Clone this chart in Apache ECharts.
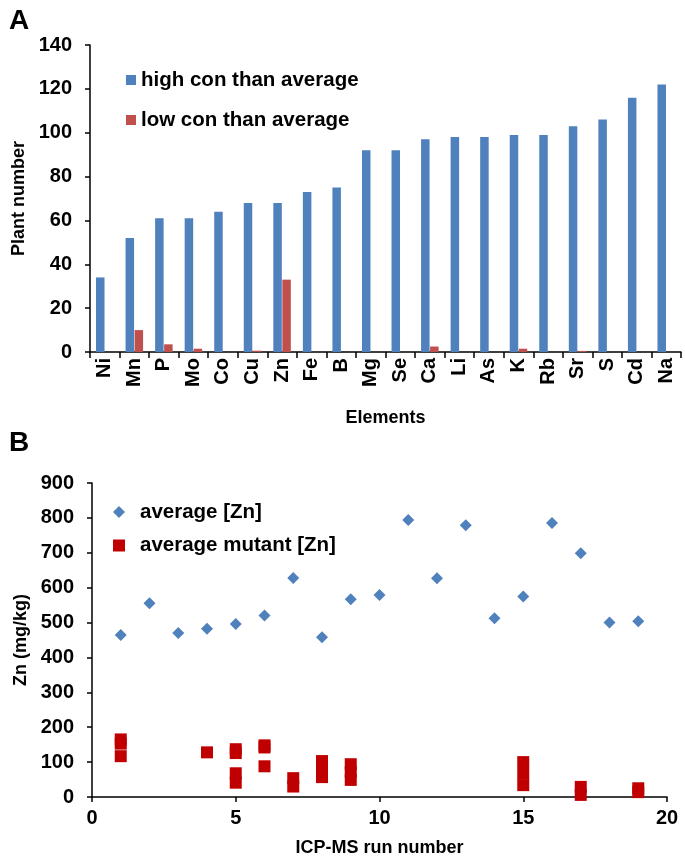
<!DOCTYPE html>
<html>
<head>
<meta charset="utf-8">
<script src="https://cdn.jsdelivr.net/npm/echarts@6/dist/echarts.min.js"></script>
<style>
html,body{margin:0;padding:0;background:#fff;}
#c{width:685px;height:859px;}
</style>
</head>
<body>
<div id="c"></div>
<script>
// Panel A data
var elements = ['Ni','Mn','P','Mo','Co','Cu','Zn','Fe','B','Mg','Se','Ca','Li','As','K','Rb','Sr','S','Cd','Na'];
var highCon = [34,52,61,61,64,68,68,73,75,92,92,97,98,98,99,99,103,106,116,122];
var lowCon  = [0,10,3.5,1.5,0,0.6,33,0,0,0,0,2.5,0,0,1.5,0,0.5,0,0,0];
var yTicksA = [0,20,40,60,80,100,120,140];

// Panel B data
var runs   = [1,2,3,4,5,6,7,8,9,10,11,12,13,14,15,16,17,18,19];
var avgZn  = [464,555,470,482,496,520,628,458,567,579,794,627,779,512,575,785,699,500,504];
var mutantRun = [1,1,1,4,5,5,5,5,6,6,6,7,7,8,8,8,9,9,9,15,15,15,17,17,19,19];
var mutantZn  = [165,153,117,128,137,126,68,41,148,142,88,54,30,103,80,57,94,72,49,100,67,34,29,6,25,14];

var FONT = '"Liberation Sans", Arial, sans-serif';
var title = {fontFamily: FONT, fontWeight: 'bold', fontSize: 18, color: '#000'};
var tick = {fontFamily: FONT, fontWeight: 'bold', fontSize: 20, color: '#000'};
var leg = {fontFamily: FONT, fontWeight: 'bold', fontSize: 20.5, color: '#000', lineHeight: 22};
var axisLine = {show: true, lineStyle: {color: '#000', width: 1.5}};
var tickStyle = {color: '#000', width: 1.5};

var chart = echarts.init(document.getElementById('c'), null, {renderer: 'canvas'});
chart.setOption({
  animation: false,
  backgroundColor: '#fff',
  title: [
    {text: 'A', left: 4, top: 2, textStyle: {fontFamily: FONT, fontWeight: 'bold', fontSize: 28, color: '#000'}},
    {text: 'B', left: 4, top: 424, textStyle: {fontFamily: FONT, fontWeight: 'bold', fontSize: 28, color: '#000'}}
  ],
  legend: [
    {
      data: [{name: 'high con than average', icon: 'rect'}, {name: 'low con than average', icon: 'rect'}],
      orient: 'vertical', left: 121, top: 64, itemWidth: 10, itemHeight: 10, itemGap: 18,
      textStyle: leg
    },
    {
      data: [{name: 'average [Zn]', icon: 'diamond'}, {name: 'average mutant [Zn]', icon: 'rect'}],
      orient: 'vertical', left: 108, top: 496, itemWidth: 12, itemHeight: 12, itemGap: 11.5,
      textStyle: Object.assign({padding: [0, 0, 0, 10]}, leg)
    }
  ],
  grid: [
    {left: 90, top: 45, width: 591, height: 307},
    {left: 92, top: 483, width: 575, height: 314}
  ],
  xAxis: [
    {
      gridIndex: 0, type: 'category', data: elements, boundaryGap: true,
      name: 'Elements', nameLocation: 'middle', nameGap: 57, nameTextStyle: title,
      axisLine: axisLine,
      axisTick: {show: true, inside: false, length: 6, interval: 0, alignWithLabel: false, lineStyle: tickStyle},
      axisLabel: Object.assign({rotate: 90, margin: 6, interval: 0}, tick),
      splitLine: {show: false}
    },
    {
      gridIndex: 1, type: 'value', min: 0, max: 20, interval: 5,
      name: 'ICP-MS run number', nameLocation: 'middle', nameGap: 42, nameTextStyle: title,
      axisLine: axisLine,
      axisTick: {show: true, length: 5, lineStyle: tickStyle},
      axisLabel: Object.assign({margin: 11}, tick),
      splitLine: {show: false}
    }
  ],
  yAxis: [
    {
      gridIndex: 0, type: 'value', min: yTicksA[0], max: yTicksA[yTicksA.length - 1], interval: 20,
      name: 'Plant number', nameLocation: 'middle', nameGap: 56, nameTextStyle: title,
      axisLine: axisLine,
      axisTick: {show: true, length: 5, lineStyle: tickStyle},
      axisLabel: Object.assign({margin: 18}, tick),
      splitLine: {show: false}
    },
    {
      gridIndex: 1, type: 'value', min: 0, max: 900, interval: 100,
      name: 'Zn (mg/kg)', nameLocation: 'middle', nameGap: 59, nameTextStyle: title,
      axisLine: axisLine,
      axisTick: {show: true, length: 5, lineStyle: tickStyle},
      axisLabel: Object.assign({margin: 18}, tick),
      splitLine: {show: false}
    }
  ],
  series: [
    {
      name: 'high con than average', type: 'bar', xAxisIndex: 0, yAxisIndex: 0,
      data: highCon, barWidth: 8.5, barGap: '6%', itemStyle: {color: '#4F81BD'}
    },
    {
      name: 'low con than average', type: 'bar', xAxisIndex: 0, yAxisIndex: 0,
      data: lowCon, barWidth: 8.5, barGap: '6%', itemStyle: {color: '#C0504D'}
    },
    {
      name: 'average [Zn]', type: 'scatter', xAxisIndex: 1, yAxisIndex: 1,
      symbol: 'diamond', symbolSize: 12,
      data: runs.map(function (r, i) { return [r, avgZn[i]]; }),
      itemStyle: {color: '#4F81BD', opacity: 1}
    },
    {
      name: 'average mutant [Zn]', type: 'scatter', xAxisIndex: 1, yAxisIndex: 1,
      symbol: 'rect', symbolSize: 12,
      data: mutantRun.map(function (r, i) { return [r, mutantZn[i]]; }),
      itemStyle: {color: '#C00000', opacity: 1}
    }
  ]
});
</script>
</body>
</html>
